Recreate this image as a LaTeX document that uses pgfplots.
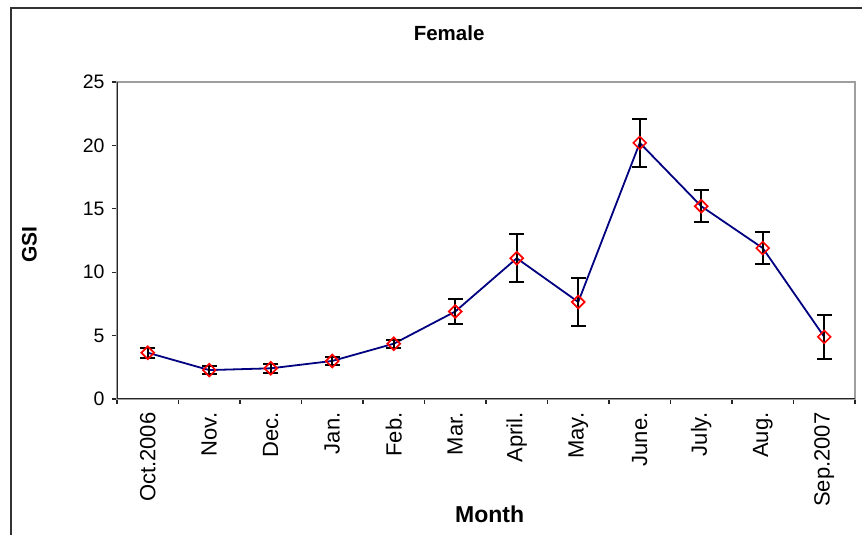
\documentclass[border=0pt]{standalone}
\usepackage{fontspec}
\setmainfont{Liberation Sans}
\usepackage{pgfplots}
\usepackage{pgfplotstable}
\pgfplotsset{compat=1.18}
\definecolor{linenavy}{RGB}{0,0,128}

% GSI of females, mean and error per month
\pgfplotstableread{
idx gsi  err
0   3.65 0.40
1   2.28 0.33
2   2.42 0.35
3   3.00 0.31
4   4.36 0.33
5   6.90 0.98
6   11.10 1.88
7   7.65 1.88
8   20.20 1.88
9   15.20 1.28
10  11.90 1.27
11  4.90 1.73
}\gsidata

\begin{document}
\begin{tikzpicture}[x=1pt,y=1pt]
\useasboundingbox (0,0) rectangle (862,535);
\draw[line width=2pt, black!80] (11,-10) -- (11,527) -- (880,527);
\begin{axis}[
    at={(117pt,136pt)}, anchor=south west,
    scale only axis, width=738pt, height=317pt,
    xmin=-0.5, xmax=11.5, ymin=0, ymax=25,
    ytick={0,5,...,25},
    xtick={-0.5,0.5,...,11.5},
    x tick label as interval,
    xticklabels={Oct.2006,Nov.,Dec.,Jan.,Feb.,Mar.,April.,May.,June.,July.,Aug.,Sep.2007},
    tick align=outside, tick pos=left,
    major tick length=5pt,
    axis line style={draw=gray!75, line width=1.3pt},
    tick style={black!85, line width=1.2pt},
    x tick label style={rotate=90, anchor=east, xshift=-5pt, font=\fontsize{22}{24}\selectfont},
    y tick label style={xshift=-4pt, font=\fontsize{19.5}{21}\selectfont},
    /pgf/number format/assume math mode=true,
    title=Female,
    title style={font=\bfseries\fontsize{20.5}{22}\selectfont, at={(axis description cs:0.45,1.135)}, anchor=center},
    xlabel=Month,
    xlabel style={font=\bfseries\fontsize{23}{25}\selectfont, at={(axis description cs:0.505,-0.391)}, anchor=base},
    ylabel=GSI,
    ylabel style={font=\bfseries\fontsize{21}{23}\selectfont, at={(axis description cs:-0.1186,0.487)}, anchor=center, rotate=0},
]
\addplot[linenavy, line width=1.8pt, mark=square, mark size=4.5pt,
    mark options={rotate=45, draw=red, fill=none, line width=1.7pt, solid},
    error bars/.cd, y dir=both, y explicit,
    error bar style={black, line width=2pt},
    error mark options={black, rotate=90, mark size=7.5pt, line width=2pt}]
    table[x=idx, y=gsi, y error=err] {\gsidata};
\draw[black!85, line width=1.3pt] (rel axis cs:0,1) -- (rel axis cs:0,0) -- (rel axis cs:1,0);
\end{axis}
\end{tikzpicture}
\end{document}
